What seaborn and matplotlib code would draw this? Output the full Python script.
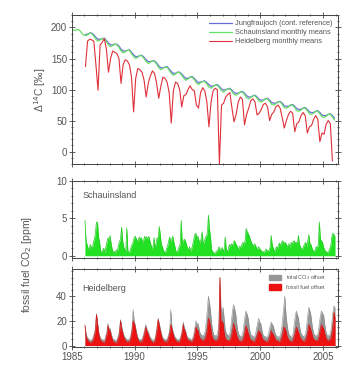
import numpy as np
import pandas as pd
import matplotlib
matplotlib.use('Agg')
import matplotlib.pyplot as plt
from matplotlib.patches import Patch
from matplotlib.ticker import MultipleLocator, FixedLocator
import seaborn as sns

# ── data ─────────────────────────────────────────────────
# top panel: bimonthly values (Jan, Mar, May, Jul, Sep, Nov), delta14C in permil
jfj_start = 1986
jungfraujoch = [
    [189, 189, 191, 191, 188, 184],
    [181, 181, 182, 183, 179, 175],
    [172, 172, 173, 173, 170, 165],
    [162, 162, 163, 164, 160, 156],
    [153, 153, 155, 155, 152, 148],
    [145, 145, 146, 146, 143, 138],
    [135, 135, 136, 137, 133, 129],
    [126, 126, 128, 128, 125, 121],
    [118, 118, 120, 121, 118, 114],
    [111, 112, 113, 114, 111, 108],
    [105, 106, 107, 108, 105, 101],
    [99, 100, 101, 102, 99, 95],
    [94, 94, 96, 97, 94, 90],
    [88, 88, 90, 91, 88, 84],
    [83, 83, 85, 86, 83, 79],
    [78, 78, 80, 81, 78, 74],
    [73, 73, 75, 76, 73, 69],
    [68, 68, 70, 71, 68, 64],
    [63, 63, 65, 66, 63, 59],
    [58, 58, 60, 61, 58, 54],
]
sch_start = 1985
schauinsland = [
    [196, 195, 197, 196, 192, 188],
    [187, 188, 191, 190, 186, 181],
    [178, 180, 182, 182, 177, 172],
    [169, 171, 173, 172, 168, 162],
    [159, 161, 163, 163, 158, 153],
    [150, 152, 155, 154, 150, 145],
    [142, 144, 146, 145, 141, 135],
    [132, 134, 136, 136, 131, 126],
    [123, 125, 128, 127, 123, 118],
    [115, 117, 120, 120, 116, 111],
    [108, 111, 113, 113, 109, 104],
    [102, 105, 107, 107, 103, 98],
    [96, 99, 101, 101, 97, 92],
    [91, 93, 96, 96, 92, 87],
    [85, 87, 90, 90, 86, 81],
    [80, 82, 85, 85, 81, 76],
    [75, 77, 80, 80, 76, 71],
    [70, 72, 75, 75, 71, 66],
    [65, 67, 70, 70, 66, 61],
    [60, 62, 65, 65, 61, 56],
    [55, 57, 60, 60, 56, 51],
]
hd_start = 1986
heidelberg = [
    [137, 178, 181, 180, 178, 140],
    [99, 172, 176, 182, 165, 128],
    [150, 162, 160, 158, 150, 110],
    [140, 148, 146, 140, 120, 64],
    [118, 134, 132, 128, 115, 88],
    [110, 122, 130, 126, 110, 86],
    [105, 120, 118, 112, 95, 46],
    [98, 112, 110, 100, 72, 90],
    [92, 100, 106, 100, 98, 75],
    [70, 95, 103, 98, 80, 40],
    [80, 98, 102, 100, -20, 75],
    [78, 88, 92, 95, 70, 48],
    [60, 80, 88, 84, 43, 60],
    [70, 82, 85, 80, 59, 62],
    [68, 76, 78, 72, 50, 60],
    [64, 72, 75, 70, 55, 38],
    [50, 60, 65, 62, 32, 45],
    [48, 58, 63, 58, 30, 40],
    [42, 52, 58, 52, 16, 30],
    [28, 44, 50, 45, -15],
]

# lower panels: monthly fossil fuel CO2 offsets in ppm, 1986-2005
ff_start = 1986
sch_ff = [
    [4.7, 2.0, 1.5, 1.0, 0.8, 1.5, 1.2, 0.9, 1.8, 2.2, 3.0, 4.5],
    [4.4, 2.5, 1.8, 0.6, 0.5, 0.8, 1.0, 0.4, 1.2, 1.8, 2.4, 2.0],
    [2.7, 1.6, 0.9, 0.4, 0.6, 0.3, 0.8, 0.5, 1.4, 1.9, 2.2, 3.8],
    [2.0, 1.2, 0.8, 0.5, 3.7, 0.7, 0.4, 0.6, 1.1, 1.5, 1.8, 2.4],
    [2.6, 2.3, 1.9, 2.1, 2.5, 2.2, 2.4, 1.8, 2.0, 2.6, 2.3, 2.5],
    [2.2, 2.6, 2.0, 1.5, 0.9, 1.2, 2.4, 1.1, 1.6, 2.4, 2.2, 3.9],
    [2.8, 1.5, 1.2, 0.7, 0.5, 0.4, 1.0, 1.3, 2.0, 2.5, 1.8, 2.2],
    [2.6, 1.8, 1.2, 0.6, 0.4, 0.8, 1.2, 1.5, 4.7, 1.6, 2.0, 2.2],
    [2.0, 1.5, 1.0, 0.8, 1.2, 0.6, 0.9, 1.5, 2.2, 2.8, 3.0, 2.2],
    [2.6, 2.0, 1.6, 2.3, 3.2, 1.5, 1.8, 2.4, 2.6, 3.0, 5.4, 3.5],
    [2.5, 0.8, 0.6, 0.4, 0.3, 0.5, 0.6, 0.8, 1.2, 0.7, 0.9, 1.1],
    [0.8, 0.5, 2.5, 1.0, 0.6, 0.8, 1.5, 1.2, 1.6, 1.3, 1.8, 2.0],
    [1.6, 1.4, 1.1, 0.9, 1.3, 1.0, 1.5, 1.8, 1.4, 2.0, 3.6, 3.2],
    [3.0, 2.6, 2.2, 1.8, 1.5, 1.2, 1.6, 1.4, 1.0, 0.8, 1.2, 0.9],
    [0.8, 0.5, 0.6, 0.4, 0.6, 0.9, 0.7, 0.5, 0.8, 1.2, 2.7, 1.4],
    [1.0, 0.6, 0.8, 1.2, 0.9, 1.5, 1.7, 1.3, 1.8, 2.0, 1.6, 1.8],
    [1.7, 1.2, 1.4, 1.6, 1.0, 1.8, 1.5, 1.9, 2.0, 1.6, 1.8, 1.5],
    [2.7, 1.5, 1.2, 0.8, 1.0, 1.3, 1.6, 1.8, 1.2, 2.0, 2.8, 1.6],
    [1.5, 1.0, 0.7, 0.5, 0.8, 1.2, 1.0, 1.5, 4.5, 2.2, 2.0, 1.8],
    [1.2, 0.8, 0.6, 0.5, 0.4, 0.6, 1.0, 1.4, 2.6, 3.0, 2.8, 2.5],
]
hd_ff = [
    [16, 8, 5, 4, 3, 2, 3, 3, 5, 8, 12, 25],
    [18, 10, 6, 4, 3, 3, 2, 3, 6, 9, 16, 12],
    [12, 8, 5, 3, 3, 2, 2, 4, 6, 10, 20, 14],
    [10, 7, 5, 4, 3, 3, 3, 4, 7, 12, 20, 18],
    [15, 10, 6, 4, 3, 3, 3, 4, 7, 10, 15, 12],
    [10, 8, 5, 4, 3, 2, 3, 4, 8, 14, 21, 16],
    [12, 8, 5, 4, 3, 3, 3, 4, 7, 10, 17, 14],
    [10, 7, 5, 4, 3, 3, 3, 4, 7, 11, 17, 12],
    [11, 7, 5, 4, 4, 3, 3, 4, 6, 10, 15, 13],
    [12, 8, 6, 5, 4, 4, 5, 6, 9, 14, 22, 20],
    [15, 9, 6, 5, 4, 4, 4, 5, 8, 55, 14, 20],
    [18, 10, 6, 5, 4, 4, 4, 5, 8, 12, 18, 15],
    [12, 8, 6, 4, 4, 3, 4, 5, 8, 12, 16, 13],
    [10, 7, 5, 4, 4, 3, 3, 5, 7, 10, 12, 11],
    [10, 7, 5, 4, 4, 3, 3, 4, 6, 9, 12, 10],
    [9, 7, 5, 4, 4, 3, 3, 4, 7, 10, 15, 14],
    [12, 8, 6, 4, 4, 3, 3, 5, 8, 11, 15, 13],
    [11, 8, 6, 5, 4, 3, 4, 5, 8, 12, 17, 15],
    [12, 9, 6, 5, 4, 4, 4, 5, 9, 13, 17, 15],
    [14, 10, 7, 5, 4, 4, 5, 6, 10, 16, 27, 22],
]
hd_total = [
    [17, 10, 7, 6, 5, 4, 5, 5, 7, 10, 14, 26],
    [19, 12, 8, 6, 5, 5, 4, 5, 8, 11, 18, 14],
    [14, 10, 7, 5, 5, 4, 4, 6, 8, 12, 21, 16],
    [12, 9, 7, 6, 5, 5, 5, 6, 9, 14, 29, 20],
    [17, 12, 8, 6, 5, 5, 5, 6, 9, 12, 17, 14],
    [12, 10, 7, 6, 5, 4, 5, 6, 10, 16, 22, 18],
    [14, 10, 7, 6, 5, 5, 5, 6, 9, 12, 29, 16],
    [12, 9, 7, 6, 5, 5, 5, 6, 9, 13, 19, 14],
    [13, 9, 7, 6, 6, 5, 5, 6, 9, 14, 20, 17],
    [18, 14, 10, 9, 8, 8, 9, 12, 20, 30, 40, 34],
    [28, 18, 12, 9, 8, 8, 8, 11, 18, 55, 31, 26],
    [31, 22, 13, 10, 9, 8, 8, 12, 20, 28, 33, 30],
    [26, 18, 12, 9, 8, 7, 8, 11, 18, 24, 28, 25],
    [22, 15, 10, 8, 8, 7, 7, 9, 14, 18, 22, 19],
    [18, 13, 9, 8, 7, 7, 7, 8, 12, 16, 19, 17],
    [16, 12, 9, 8, 7, 7, 7, 9, 14, 22, 31, 40],
    [26, 18, 12, 9, 8, 7, 7, 10, 17, 24, 28, 25],
    [22, 16, 11, 9, 8, 7, 8, 10, 17, 25, 31, 28],
    [24, 17, 12, 9, 8, 8, 8, 11, 18, 24, 28, 26],
    [25, 18, 12, 9, 8, 8, 9, 12, 19, 27, 32, 31],
]


def to_frame(start, rows, per_year):
    t, v = [], []
    for i, row in enumerate(rows):
        for k, val in enumerate(row):
            t.append(start + i + (k + 0.5) / per_year)
            v.append(val)
    return pd.DataFrame({'year': t, 'value': v})


df_jfj = to_frame(jfj_start, jungfraujoch, 6)
df_sch = to_frame(sch_start, schauinsland, 6)
df_hd = to_frame(hd_start, heidelberg, 6)
df_sch_ff = to_frame(ff_start, sch_ff, 12)
df_hd_ff = to_frame(ff_start, hd_ff, 12)
df_hd_tot = to_frame(ff_start, hd_total, 12)

# ── style ────────────────────────────────────────────────
sns.set_style('ticks')
plt.rcParams['font.family'] = ['Liberation Sans', 'DejaVu Sans']
txt = '#555555'

fig = plt.figure(figsize=(3.54, 3.67), dpi=100)
ax1 = fig.add_axes([0.203, 0.553, 0.752, 0.406])
ax2 = fig.add_axes([0.203, 0.297, 0.752, 0.211])
ax3 = fig.add_axes([0.203, 0.055, 0.752, 0.212])

# ── top panel ────────────────────────────────────────────
sns.lineplot(data=df_jfj, x='year', y='value', ax=ax1, color='#6a6ad8', lw=0.9,
             label='Jungfraujoch (cont. reference)')
sns.lineplot(data=df_sch, x='year', y='value', ax=ax1, color='#66e066', lw=0.9,
             label='Schauinsland monthly means')
sns.lineplot(data=df_hd, x='year', y='value', ax=ax1, color='#e0303a', lw=0.8,
             label='Heidelberg monthly means')
ax1.set_ylim(-20, 220)
ax1.yaxis.set_major_locator(MultipleLocator(50))
ax1.yaxis.set_minor_locator(MultipleLocator(10))
ax1.set_ylabel('Δ$^{14}$C [‰]', fontsize=7.5, color=txt, labelpad=2)
leg = ax1.legend(loc='upper right', frameon=False, fontsize=5.3, handlelength=3.2,
                 labelspacing=0.25, borderaxespad=0.3, handletextpad=0.4)
for t in leg.get_texts():
    t.set_color(txt)

# ── middle panel ─────────────────────────────────────────
ax2.fill_between(df_sch_ff['year'], 0, df_sch_ff['value'], color='#22e022', lw=0)
sns.lineplot(data=df_sch_ff, x='year', y='value', ax=ax2, color='#22cc22', lw=0.5)
ax2.set_ylim(-0.3, 10)
ax2.yaxis.set_major_locator(MultipleLocator(5))
ax2.yaxis.set_minor_locator(MultipleLocator(1))
ax2.text(0.04, 0.78, 'Schauinsland', transform=ax2.transAxes, fontsize=6.5, color=txt)
ax2.set_ylabel('')

# ── bottom panel ─────────────────────────────────────────
ax3.fill_between(df_hd_tot['year'], 0, df_hd_tot['value'], color='#969696', lw=0)
sns.lineplot(data=df_hd_tot, x='year', y='value', ax=ax3, color='#8a8a8a', lw=0.4)
ax3.fill_between(df_hd_ff['year'], 0, df_hd_ff['value'], color='#ee1111', lw=0)
sns.lineplot(data=df_hd_ff, x='year', y='value', ax=ax3, color='#dd1111', lw=0.5)
ax3.set_ylim(-1, 62)
ax3.yaxis.set_major_locator(FixedLocator([0, 20, 40]))
ax3.yaxis.set_minor_locator(MultipleLocator(5))
ax3.text(0.04, 0.72, 'Heidelberg', transform=ax3.transAxes, fontsize=6.5, color=txt)
ax3.set_ylabel('')
handles = [Patch(color='#969696', label='total CO$_2$ offset'),
           Patch(color='#ee1111', label='fossil fuel offset')]
leg3 = ax3.legend(handles=handles, loc='upper right', frameon=False, fontsize=4,
                  handlelength=2.2, handleheight=1.2, labelspacing=0.3,
                  borderaxespad=0.4, bbox_to_anchor=(0.97, 1.0))
for t in leg3.get_texts():
    t.set_color(txt)

fig.text(0.075, 0.28, 'fossil fuel CO$_2$ [ppm]', rotation=90, fontsize=7.5,
         color=txt, ha='center', va='center')

for ax in (ax1, ax2, ax3):
    ax.set_xlim(1985, 2006.2)
    ax.xaxis.set_major_locator(MultipleLocator(5))
    ax.xaxis.set_minor_locator(MultipleLocator(1))
    ax.tick_params(which='both', direction='inout', top=True, right=True,
                   labelsize=7, labelcolor=txt, color='#444444', width=0.6, pad=1.5)
    ax.tick_params(which='major', length=4)
    ax.tick_params(which='minor', length=2)
    ax.set_xlabel('')
    for s in ax.spines.values():
        s.set_linewidth(0.7)
        s.set_color('#444444')
ax1.tick_params(labelbottom=False)
ax2.tick_params(labelbottom=False)

fig.savefig('out.png', dpi=100)
